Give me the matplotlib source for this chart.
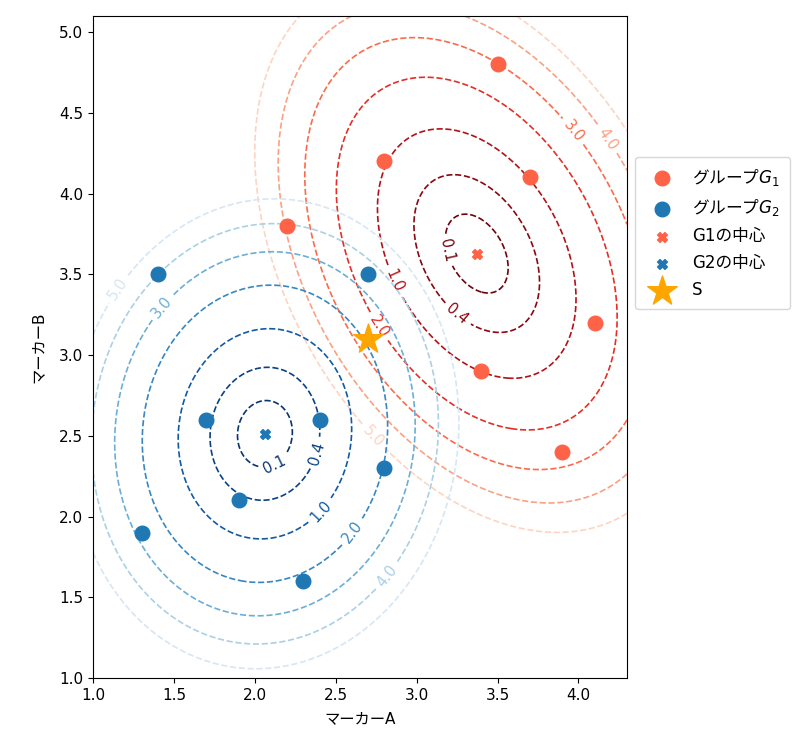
import numpy as np
import matplotlib
matplotlib.use("Agg")
import matplotlib.pyplot as plt
from matplotlib.colors import Normalize

plt.rcParams['font.family'] = ['DejaVu Sans', 'Noto Sans CJK JP']
plt.rcParams['font.size'] = 11
plt.rcParams['axes.unicode_minus'] = False

# data
g1_x = [2.2, 2.8, 3.5, 3.7, 4.1, 3.4, 3.9]
g1_y = [3.8, 4.2, 4.8, 4.1, 3.2, 2.9, 2.4]
g2_x = [1.4, 2.7, 1.7, 2.4, 1.9, 2.8, 1.3, 2.3]
g2_y = [3.5, 3.5, 2.6, 2.6, 2.1, 2.3, 1.9, 1.6]
s_point = [2.7, 3.1]
levels = [0.1, 0.4, 1.0, 2.0, 3.0, 4.0, 5.0]

# label positions (approximate)
g1_label_pos = [(3.19, 3.65), (3.25, 3.25), (2.88, 3.47), (2.755, 3.17),
                (3.96, 4.38), (4.17, 4.33), (2.745, 2.51)]
g2_label_pos = [(2.126, 2.315), (2.374, 2.395), (2.417, 2.025), (2.61, 1.90),
                (1.427, 3.30), (2.807, 1.636), (1.155, 3.41)]

G1 = np.column_stack([g1_x, g1_y])
G2 = np.column_stack([g2_x, g2_y])
m1, m2 = G1.mean(axis=0), G2.mean(axis=0)
S1inv = np.linalg.inv(np.cov(G1.T, bias=True))
S2inv = np.linalg.inv(np.cov(G2.T, bias=True))

xlim = (1.0, 4.3)
ylim = (1.0, 5.1)
xx, yy = np.meshgrid(np.linspace(xlim[0], xlim[1], 500), np.linspace(ylim[0], ylim[1], 500))
P = np.stack([xx, yy], axis=-1)

def md2(P, m, Sinv):
    d = P - m
    return np.einsum('...i,ij,...j->...', d, Sinv, d)

D1 = md2(P, m1, S1inv)
D2 = md2(P, m2, S2inv)

fig = plt.figure(figsize=(8.02, 7.42), dpi=100)
ax = fig.add_axes([93/802, (742-678)/742, 534/802, 662/742])

norm = Normalize(vmin=0.0, vmax=6.0)
c1 = ax.contour(xx, yy, D1, levels=levels, cmap='Reds_r', norm=norm,
                linestyles='dashed', linewidths=1.2)
c2 = ax.contour(xx, yy, D2, levels=levels, cmap='Blues_r', norm=norm,
                linestyles='dashed', linewidths=1.2)
ax.clabel(c1, inline=True, fmt='%.1f', fontsize=10.5, manual=g1_label_pos)
ax.clabel(c2, inline=True, fmt='%.1f', fontsize=10.5, manual=g2_label_pos)

ax.scatter(g1_x, g1_y, s=110, color='tomato', label='グループ$G_1$', zorder=3)
ax.scatter(g2_x, g2_y, s=110, color='#1f77b4', label='グループ$G_2$', zorder=3)
ax.scatter([m1[0]], [m1[1]], s=50, marker='X', color='tomato', label='G1の中心', zorder=3)
ax.scatter([m2[0]], [m2[1]], s=50, marker='X', color='#1f77b4', label='G2の中心', zorder=3)
ax.scatter([s_point[0]], [s_point[1]], s=500, marker='*', color='orange', label='S', zorder=4)

ax.set_xlim(*xlim)
ax.set_ylim(*ylim)
ax.set_xlabel('マーカーA', labelpad=6)
ax.set_ylabel('マーカーB', labelpad=10)
leg = ax.legend(loc='upper left', bbox_to_anchor=(1.0, 0.8), fontsize=12,
                labelspacing=0.55, borderpad=0.6)
for t in leg.get_texts()[:2]:
    t.set_fontfamily(['Noto Sans CJK JP', 'DejaVu Sans'])

fig.savefig('out.png', dpi=100)
